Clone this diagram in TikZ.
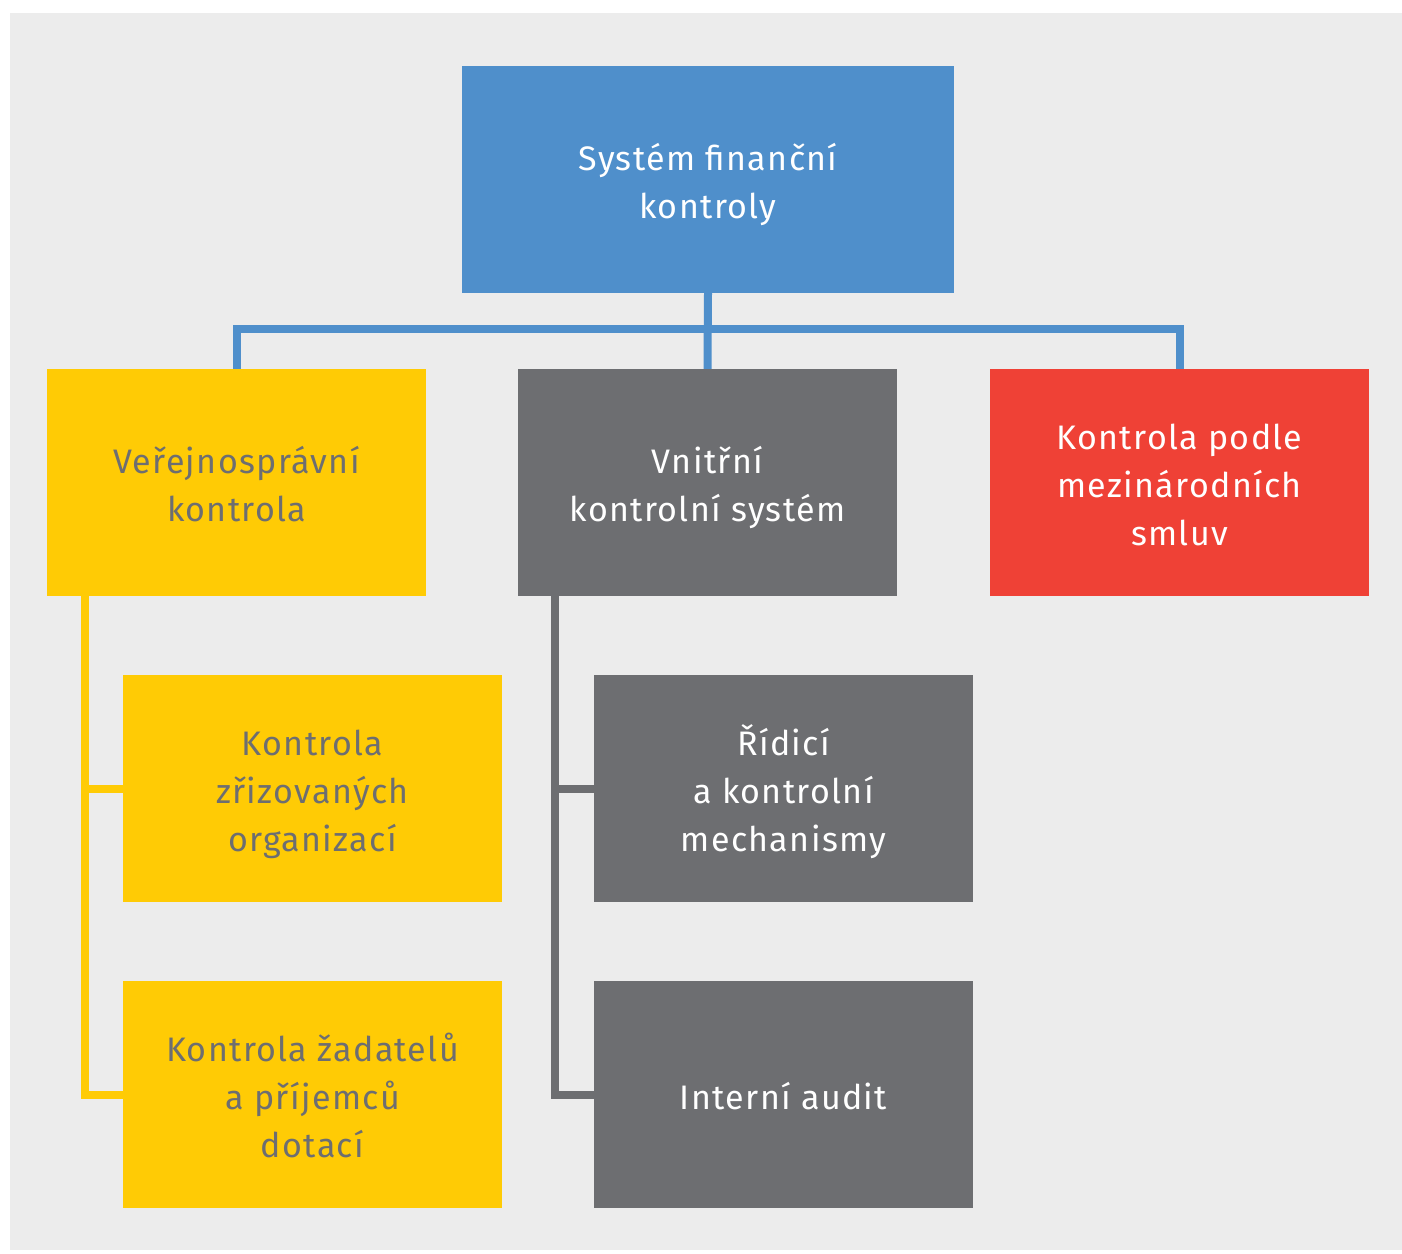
\documentclass[tikz,border=0pt]{standalone}
\usepackage{fontspec}
\setmainfont{Fira Sans}[LetterSpace=4]
\definecolor{bg}{HTML}{ECECEC}
\definecolor{cblue}{HTML}{4F8FCB}
\definecolor{cyellow}{HTML}{FFCB05}
\definecolor{cgray}{HTML}{6D6E71}
\definecolor{cred}{HTML}{EF4136}
\newcommand\bxtext[1]{\raisebox{-5pt}[\height][\depth]{\begin{tabular}{@{}c@{}}#1\end{tabular}}}
\begin{document}
\begin{tikzpicture}[x=1pt,y=-1pt,
  box/.style={rectangle, inner sep=0pt, minimum width=379pt, minimum height=227pt,
    font=\fontsize{34}{48}\selectfont, text=white},
  ybox/.style={box, fill=cyellow, text=cgray},
  gbox/.style={box, fill=cgray},
  conn/.style={line width=8pt}]
\fill[white] (0,0) rectangle (1402,1253);
\fill[bg] (10,13) rectangle (1402,1250);
\useasboundingbox (0,0) rectangle (1402,1253);
\node[box, fill=cblue, minimum width=492pt] (top) at (708,179.5) {\bxtext{Systém finanční\\kontroly}};
\node[ybox] (vp) at (236.5,482.5) {\bxtext{Veřejnosprávní\\kontrola}};
\node[gbox] (vk) at (707.5,482.5) {\bxtext{Vnitřní\\kontrolní systém}};
\node[box, fill=cred] (kp) at (1179.5,482.5) {\bxtext{Kontrola podle\\mezinárodních\\smluv}};
\node[ybox] (kz) at (312.5,788.5) {\bxtext{Kontrola\\zřizovaných\\organizací}};
\node[ybox] (kzd) at (312.5,1094.5) {\bxtext{Kontrola žadatelů\\a příjemců\\dotací}};
\node[gbox] (rk) at (783.5,788.5) {\bxtext{Řídicí\\a kontrolní\\mechanismy}};
\node[gbox] (ia) at (783.5,1094.5) {\bxtext{Interní audit}};
\draw[conn, cblue] (top.south) -- (vk.north);
\draw[conn, cblue] (vp.north) -- ++(0,-40) -| (kp.north);
\coordinate (ytop) at (84.5,596);
\draw[conn, cyellow] (ytop) |- (kzd.west);
\draw[conn, cyellow] (ytop |- kz.west) -- (kz.west);
\coordinate (gtop) at (555,596);
\draw[conn, cgray] (gtop) |- (ia.west);
\draw[conn, cgray] (gtop |- rk.west) -- (rk.west);
\end{tikzpicture}
\end{document}
